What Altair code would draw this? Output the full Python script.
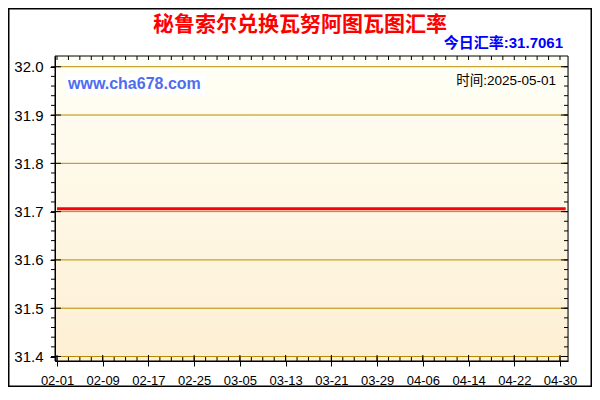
import altair as alt
import pandas as pd

# ---- data ----
dates = ["2025-02-01", "2025-02-09", "2025-02-17", "2025-02-25", "2025-03-05", "2025-03-13",
         "2025-03-21", "2025-03-29", "2025-04-06", "2025-04-14", "2025-04-22", "2025-04-30",
         "2025-05-01"]
rates = [31.7061, 31.7061, 31.7061, 31.7061, 31.7061, 31.7061,
         31.7061, 31.7061, 31.7061, 31.7061, 31.7061, 31.7061,
         31.7061]
major_x = ["2025-02-01", "2025-02-09", "2025-02-17", "2025-02-25", "2025-03-05", "2025-03-13",
           "2025-03-21", "2025-03-29", "2025-04-06", "2025-04-14", "2025-04-22", "2025-04-30"]
major_y = [31.4, 31.5, 31.6, 31.7, 31.8, 31.9, 32.0]
minor_y = [round(31.4 + 0.02 * i, 2) for i in range(31)]
minor_x = [d.strftime("%Y-%m-%d") for d in pd.date_range("2025-02-01", "2025-04-30", freq="2D")]

title_text = "秘鲁索尔兑换瓦努阿图瓦图汇率"
today_text = "今日汇率:31.7061"
site_text = "www.cha678.com"
time_text = "时间:2025-05-01"

W, H = 513, 305
PL, PT = 47, 48
SW, SH = 584, 379
LAT = "Liberation Sans, Arial, Noto Sans CJK SC"
CJK = "Noto Sans CJK SC"

df = pd.DataFrame({"date": dates, "rate": rates})
df_mx = pd.DataFrame({"date": minor_x})
df_Mx = pd.DataFrame({"date": major_x})
df_my = pd.DataFrame({"v": minor_y})
df_My = pd.DataFrame({"v": major_y})
one = pd.DataFrame({"a": [0]})

xscale = alt.Scale(type="utc",
                   domain=[alt.DateTime(year=2025, month=1, date=31, hours=15, minutes=36, utc=True),
                           alt.DateTime(year=2025, month=5, date=1, hours=9, minutes=36, utc=True)])
yscale = alt.Scale(domain=[31.3907, 32.0222], nice=False, zero=False)

tick_ms = [int(pd.Timestamp(d, tz="UTC").value // 10**6) for d in major_x]
xaxis = alt.Axis(values=tick_ms, labelExpr="utcFormat(datum.value, '%m-%d')",
                 labelOverlap=False, labelFont=LAT, labelFontSize=13,
                 labelColor="#000000", domainColor="black", tickColor="black",
                 tickSize=5, labelPadding=8, grid=False, zindex=1, title=None)
yaxis = alt.Axis(values=major_y, format=".1f", labelFont=LAT, labelFontSize=15,
                 labelColor="#000000", domainColor="black", tickColor="black",
                 tickSize=5, labelPadding=7, grid=False, zindex=1, title=None)

X = lambda f: alt.X(f, scale=xscale, axis=xaxis, title=None)
Y = lambda f: alt.Y(f, scale=yscale, axis=yaxis, title=None)

bg = alt.Chart(one).mark_rect(
    stroke="black", strokeWidth=1,
    color=alt.Gradient(gradient="linear", x1=0, x2=0, y1=0, y2=1,
                       stops=[alt.GradientStop(offset=0, color="#fffff6"),
                              alt.GradientStop(offset=1, color="#fdefd3")])
).encode(x=alt.value(0), x2=alt.value(W), y=alt.value(0), y2=alt.value(H))

frame = alt.Chart(one).mark_rect(fill=None, stroke="black", strokeWidth=1.5).encode(
    x=alt.value(-PL + 0.75), x2=alt.value(SW - PL - 0.75),
    y=alt.value(-PT + 0.75), y2=alt.value(SH - PT - 0.75))

grid = alt.Chart(df_My).mark_rule(color="#b88c00", strokeWidth=1).encode(
    y=Y("v:Q"), x=alt.value(0), x2=alt.value(W))

sitebox = alt.Chart(one).mark_rect(color="#ffffff").encode(
    x=alt.value(11), x2=alt.value(150), y=alt.value(18), y2=alt.value(40))

line = alt.Chart(df).mark_line(color="#ff0000", strokeWidth=3).encode(
    x=X("date:T"), y=Y("rate:Q"))

# tick marks drawn at scale positions
xmin_b = alt.Chart(df_mx).mark_rule(color="black").encode(
    x=X("date:T"), y=alt.value(H - 4), y2=alt.value(H))
xmin_t = alt.Chart(df_mx).mark_rule(color="black").encode(
    x=X("date:T"), y=alt.value(0), y2=alt.value(4))
xmaj_b = alt.Chart(df_Mx).mark_rule(color="black").encode(
    x=X("date:T"), y=alt.value(H - 6), y2=alt.value(H))
ymin_l = alt.Chart(df_my).mark_rule(color="black").encode(
    y=Y("v:Q"), x=alt.value(-4), x2=alt.value(0))
ymin_r = alt.Chart(df_my).mark_rule(color="black").encode(
    y=Y("v:Q"), x=alt.value(W - 4), x2=alt.value(W))
ymaj_l = alt.Chart(df_My).mark_rule(color="black").encode(
    y=Y("v:Q"), x=alt.value(0), x2=alt.value(6))
ymaj_r = alt.Chart(df_My).mark_rule(color="black").encode(
    y=Y("v:Q"), x=alt.value(W - 7), x2=alt.value(W))

title = alt.Chart(one).mark_text(text=title_text, font=CJK, fontSize=21, fontWeight="bold",
                                 color="#ff0000", align="center", baseline="middle").encode(
    x=alt.value(245), y=alt.value(-31))
today = alt.Chart(one).mark_text(text=today_text, font=LAT, fontSize=15, fontWeight="bold",
                                 color="#0000ff", align="right", baseline="middle").encode(
    x=alt.value(508), y=alt.value(-13))
site = alt.Chart(one).mark_text(text=site_text, font=LAT, fontSize=16, fontWeight="bold",
                                color="#4f6cf0", align="left", baseline="middle").encode(
    x=alt.value(13), y=alt.value(28))
ttime = alt.Chart(one).mark_text(text=time_text, font=LAT, fontSize=13.5,
                                 color="#000000", align="right", baseline="middle").encode(
    x=alt.value(501), y=alt.value(25))

chart = alt.layer(bg, grid, sitebox, line, xmin_b, xmin_t, xmaj_b, ymin_l, ymin_r,
                  ymaj_l, ymaj_r, title, today, site, ttime, frame).properties(
    width=W, height=H,
    autosize=alt.AutoSizeParams(type="none"),
    padding={"left": PL, "top": PT, "right": SW - PL - W, "bottom": SH - PT - H},
).configure_view(stroke=None).configure(background="white")

chart.save("out.html", embed_options={"renderer": "svg", "actions": False})
